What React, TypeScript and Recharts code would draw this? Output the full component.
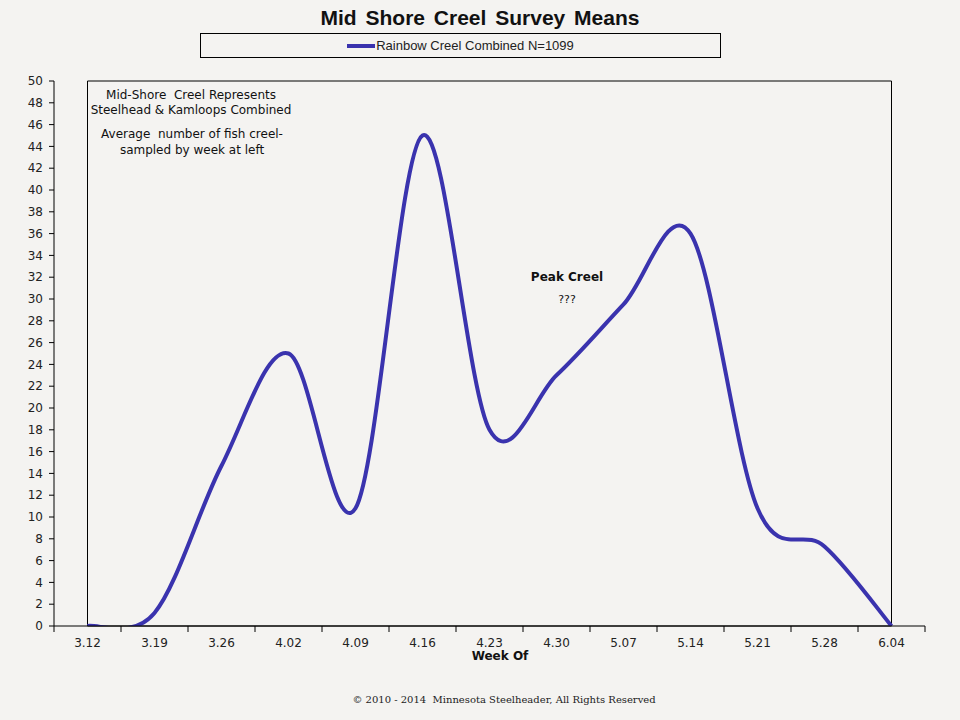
import { LineChart, Line, XAxis, YAxis, Legend, ReferenceArea } from "recharts";

const WEEKS = ["3.12", "3.19", "3.26", "4.02", "4.09", "4.16", "4.23", "4.30", "5.07", "5.14", "5.21", "5.28", "6.04"];
const MEANS = [0, 1.2, 14.7, 25, 10.8, 45, 18, 23, 29.5, 36, 10.8, 7.3, 0];
const Y_TICKS = Array.from({ length: 26 }, (_, i) => i * 2);
const SERIES_NAME = "Rainbow Creel Combined N=1099";

const data = WEEKS.map((week, i) => ({ week, mean: MEANS[i] }));

const BG = "#f4f3f1";
const LINE = "#3a33ae";
const TICK_FONT = "'DejaVu Sans', Verdana, sans-serif";
const HALF_BAND = (925 - 54) / WEEKS.length / 2;

// Excel-style smoothed line (Catmull-Rom through every point)
function excelSmooth(context: any) {
  let pts: number[][] = [];
  return {
    areaStart() {},
    areaEnd() {},
    lineStart() {
      pts = [];
    },
    point(x: number, y: number) {
      pts.push([+x, +y]);
    },
    lineEnd() {
      const n = pts.length;
      if (!n) return;
      context.moveTo(pts[0][0], pts[0][1]);
      for (let i = 0; i < n - 1; i++) {
        const p0 = pts[Math.max(i - 1, 0)];
        const p1 = pts[i];
        const p2 = pts[i + 1];
        const p3 = pts[Math.min(i + 2, n - 1)];
        context.bezierCurveTo(
          p1[0] + (p2[0] - p0[0]) / 6,
          p1[1] + (p2[1] - p0[1]) / 6,
          p2[0] - (p3[0] - p1[0]) / 6,
          p2[1] - (p3[1] - p1[1]) / 6,
          p2[0],
          p2[1]
        );
      }
    },
  };
}

function WeekTick({ x, y, payload, index }: any) {
  return (
    <g>
      {index === 0 && <line x1={x - HALF_BAND} x2={x - HALF_BAND} y1={y - 8} y2={y - 2} stroke="#000" />}
      <line x1={x + HALF_BAND} x2={x + HALF_BAND} y1={y - 8} y2={y - 2} stroke="#000" />
      <text x={x} y={y + 13} textAnchor="middle" fontSize={12} fontFamily={TICK_FONT} fill="#222">
        {payload.value}
      </text>
    </g>
  );
}

function LegendBox() {
  return (
    <div
      style={{
        width: 519,
        height: 23,
        border: "1px solid #000",
        display: "flex",
        alignItems: "center",
        justifyContent: "center",
        fontFamily: "'Liberation Sans', Arial, sans-serif",
        fontSize: 13,
        color: "#222",
        boxSizing: "content-box",
      }}
    >
      <span style={{ display: "inline-block", width: 28, height: 4, background: LINE, marginRight: 1 }} />
      <span>{SERIES_NAME}</span>
    </div>
  );
}

const note: React.CSSProperties = {
  position: "absolute",
  fontFamily: TICK_FONT,
  fontSize: 12,
  color: "#111",
  textAlign: "center",
  whiteSpace: "nowrap",
  lineHeight: "12px",
  transform: "translate(-50%, -50%)",
};

export default function App() {
  return (
    <div style={{ position: "absolute", left: 0, top: 0, width: 960, height: 720, background: BG, overflow: "hidden" }}>
      <div
        style={{
          position: "absolute",
          left: 0,
          width: 960,
          top: 6,
          textAlign: "center",
          fontFamily: "'Liberation Sans', Arial, sans-serif",
          fontWeight: "bold",
          fontSize: 21,
          wordSpacing: 3,
          color: "#111",
        }}
      >
        Mid Shore Creel Survey Means
      </div>

      <LineChart width={960} height={720} data={data} margin={{ top: 81, right: 35, bottom: 64, left: 0 }}>
        <ReferenceArea y1={0} y2={50} stroke="#000" strokeWidth={1} fill="none" fillOpacity={0} ifOverflow="visible" />
        <XAxis
          dataKey="week"
          height={30}
          padding={{ left: HALF_BAND, right: HALF_BAND }}
          axisLine={{ stroke: "#000" }}
          tickLine={false}
          tick={<WeekTick />}
          interval={0}
        />
        <YAxis
          width={54}
          domain={[0, 50]}
          ticks={Y_TICKS}
          interval={0}
          allowDataOverflow
          axisLine={{ stroke: "#000" }}
          tickLine={{ stroke: "#000" }}
          tickSize={5}
          tickMargin={6}
          tick={{ fontSize: 12, fontFamily: TICK_FONT, fill: "#222" }}
        />
        <Legend
          layout="horizontal"
          verticalAlign="middle"
          align="center"
          wrapperStyle={{ position: "absolute", top: 33, left: 200, width: 521, height: 25 }}
          content={() => <LegendBox />}
        />
        <Line
          dataKey="mean"
          name={SERIES_NAME}
          type={excelSmooth as any}
          stroke={LINE}
          strokeWidth={4}
          dot={false}
          activeDot={false}
          isAnimationActive={false}
        />
      </LineChart>

      <div style={{ ...note, left: 191, top: 95 }}>Mid-Shore&nbsp; Creel Represents</div>
      <div style={{ ...note, left: 191, top: 110 }}>Steelhead &amp; Kamloops Combined</div>
      <div style={{ ...note, left: 192, top: 134 }}>Average&nbsp; number of fish creel-</div>
      <div style={{ ...note, left: 192, top: 150 }}>sampled by week at left</div>

      <div style={{ ...note, left: 567, top: 277, fontWeight: "bold" }}>Peak Creel</div>
      <div style={{ ...note, left: 567, top: 300, fontSize: 11 }}>???</div>

      <div style={{ ...note, left: 500, top: 656, fontWeight: "bold" }}>Week Of</div>

      <div
        style={{
          ...note,
          left: 504,
          top: 700,
          fontFamily: "'DejaVu Serif', serif",
          fontSize: 10,
          color: "#222",
        }}
      >
        © 2010 - 2014&nbsp; Minnesota Steelheader, All Rights Reserved
      </div>
    </div>
  );
}
